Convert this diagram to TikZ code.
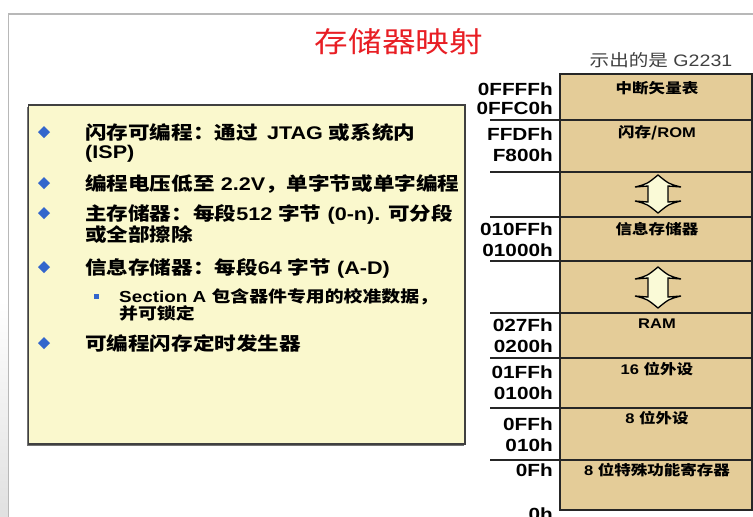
\documentclass[tikz,border=0pt]{standalone}
\usepackage{fontspec}
\newfontfamily\cjk[FakeStretch=1.18]{Noto Sans CJK SC}
\newfontfamily\lat[FakeStretch=1.18]{Liberation Sans}
\newcommand\la[1]{{\lat #1}}
\definecolor{noteyellow}{RGB}{250,248,205}
\definecolor{maptan}{RGB}{228,204,152}
\definecolor{arrowfill}{RGB}{250,250,215}
\definecolor{bulletblue}{RGB}{51,102,204}
\definecolor{titlered}{RGB}{232,30,36}

\begin{document}
\begin{tikzpicture}[x=1pt,y=-1pt,
  item/.style={anchor=base west, inner sep=0pt, font=\cjk\bfseries\fontsize{18.3}{20}\selectfont},
  subitem/.style={anchor=base west, inner sep=0pt, font=\cjk\bfseries\fontsize{16}{17}\selectfont},
  addr/.style={anchor=base east, inner sep=0pt, font=\lat\bfseries\fontsize{17.6}{20}\selectfont},
  region/.style={anchor=base, inner sep=0pt, font=\cjk\bfseries\fontsize{14}{16}\selectfont},
  bigarrow/.style={fill=arrowfill, draw=black, line width=1.3pt, line join=miter}]
\useasboundingbox (0,0) rectangle (753,517);
% slide frame
\shade[top color=white, bottom color=black!12] (0,300) rectangle (8,517);
\draw[black!28, line width=1.6pt] (8.5,530) -- (8.5,14) -- (760,14);
\node[font=\cjk\fontsize{28.5}{30}\selectfont, text=titlered] (title) at (399,42) {存储器映射};
% feature box
\fill[black!55] (26.5,107) rectangle (463.5,446);
\filldraw[fill=noteyellow, draw=black!75, line width=1.4pt] (28.5,105) rectangle (465,444);
\foreach \by in {132,183,213,267,343}
  \fill[bulletblue] (44,\by-6) -- (50,\by) -- (44,\by+6) -- (38,\by) -- cycle;
\fill[bulletblue] (94,294) rectangle (98.5,298.5);
\node[item] (f1) at (85,139) {闪存可编程：通过\la{ \,JTAG }或系统内};
\node[item] (f1b) at (85,158.5) {\la{(ISP)}};
\node[item] (f2) at (85,190) {编程电压低至\la{ 2.2V}，单字节或单字编程};
\node[item] (f3) at (85,220) {主存储器：每段\la{512 }字节\la{ (0-n). }可分段};
\node[item] (f3b) at (85,241.5) {或全部擦除};
\node[item] (f4) at (85,274) {信息存储器：每段\la{64 }字节\la{ (A-D)}};
\node[subitem] (f5) at (119,302) {\la{Section A }包含器件专用的校准数据，};
\node[subitem] (f5b) at (119,319) {并可锁定};
\node[item] (f6) at (85,350) {可编程闪存定时发生器};
% memory map
\node[font=\cjk\fontsize{16.6}{18}\selectfont, text=black!75] (device) at (661,60) {示出的是\la{ G2231}};
\fill[maptan] (560,74) rectangle (752,510);
\draw[black!85, line width=1.3pt] (560,510) -- (560,74) -- (752,74) -- (752,510) -- cycle;
\foreach \sy in {120,172,217,261,313,358,408,460}
  \draw[black!85, line width=1.3pt] (490,\sy) -- (752,\sy);
\foreach \t/\b in {175/213,267/308}
  \filldraw[bigarrow] (658,\t) .. controls (647,\t+9) .. (635,\t+12) -- (648,\t+11)
    -- (648,\b-11) -- (635,\b-12) .. controls (647,\b-9) .. (658,\b)
    .. controls (669,\b-9) .. (681,\b-12) -- (668,\b-11) -- (668,\t+11)
    -- (681,\t+12) .. controls (669,\t+9) .. cycle;
\node[region] (vec) at (657,93.5) {中断矢量表};
\node[region] (flash) at (657,137.5) {闪存/\la{ROM}};
\node[region] (info) at (657,234.5) {信息存储器};
\node[region] (ram) at (657,328) {\la{RAM}};
\node[region] (per16) at (657,374.5) {\la{16 }位外设};
\node[region] (per8) at (657,423.5) {\la{8 }位外设};
\node[region] (sfr) at (657,475.5) {\la{8 }位特殊功能寄存器};
\node[addr] (a1) at (553,95) {0FFFFh};
\node[addr] (a2) at (553,114) {0FFC0h};
\node[addr] (a3) at (553,140) {FFDFh};
\node[addr] (a4) at (553,161) {F800h};
\node[addr] (a5) at (553,235) {010FFh};
\node[addr] (a6) at (553,256) {01000h};
\node[addr] (a7) at (553,331) {027Fh};
\node[addr] (a8) at (553,352) {0200h};
\node[addr] (a9) at (553,378) {01FFh};
\node[addr] (a10) at (553,399) {0100h};
\node[addr] (a11) at (553,430) {0FFh};
\node[addr] (a12) at (553,451) {010h};
\node[addr] (a13) at (553,476) {0Fh};
\node[addr] (a14) at (553,520) {0h};
\end{tikzpicture}
\end{document}
